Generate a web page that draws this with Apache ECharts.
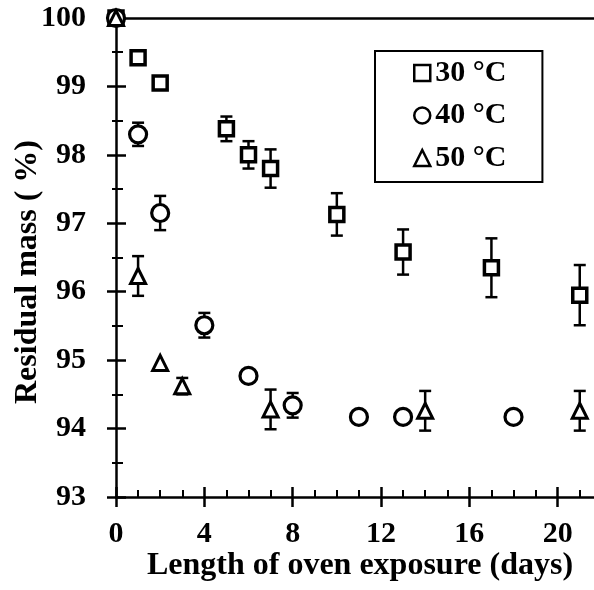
<!DOCTYPE html>
<html><head><meta charset="utf-8">
<script src="https://cdn.jsdelivr.net/npm/echarts@6/dist/echarts.min.js"></script>
<style>html,body{margin:0;padding:0;background:#fff}#c{width:594px;height:590px}</style>
</head><body><div id="c"></div>
<script>
const days30 = [0, 1, 2, 5, 6, 7, 10, 13, 17, 21];
const mass30 = [100, 99.42, 99.05, 98.38, 98.0, 97.8, 97.13, 96.58, 96.35, 95.95];
const err30  = [0, 0, 0, 0.18, 0.2, 0.28, 0.31, 0.33, 0.43, 0.44];
const days40 = [0, 1, 2, 4, 6, 8, 11, 13, 18];
const mass40 = [100, 98.3, 97.15, 95.51, 94.77, 94.34, 94.17, 94.17, 94.17];
const err40  = [0, 0.17, 0.25, 0.18, 0, 0.18, 0, 0, 0];
const days50 = [0, 1, 2, 3, 7, 14, 21];
const mass50 = [100, 96.23, 94.96, 94.62, 94.28, 94.26, 94.26];
const err50  = [0, 0.29, 0, 0.12, 0.29, 0.29, 0.29];
const seriesNames = ['30 °C', '40 °C', '50 °C'];
const xTicks = [0, 4, 8, 12, 16, 20];
const yTicks = [93, 94, 95, 96, 97, 98, 99, 100];

const FONT = '"Liberation Serif", "Times New Roman", serif';
const zip = (xs, ys) => xs.map((x, i) => [x, ys[i]]);
const errData = (xs, ys, es) => xs.map((x, i) => [x, ys[i], es[i]]).filter(d => d[2] > 0);

function errSeries(xs, ys, es) {
  return {
    type: 'custom', z: 1, silent: true, clip: false,
    data: errData(xs, ys, es),
    encode: {x: 0, y: 1},
    renderItem: function (params, api) {
      const x = api.value(0), y = api.value(1), e = api.value(2);
      const top = api.coord([x, y + e]);
      const bot = api.coord([x, y - e]);
      const hw = 6;
      const st = {stroke: '#000', lineWidth: 2.5};
      return {type: 'group', children: [
        {type: 'line', shape: {x1: top[0], y1: top[1], x2: bot[0], y2: bot[1]}, style: st},
        {type: 'line', shape: {x1: top[0] - hw, y1: top[1], x2: top[0] + hw, y2: top[1]}, style: st},
        {type: 'line', shape: {x1: bot[0] - hw, y1: bot[1], x2: bot[0] + hw, y2: bot[1]}, style: st}
      ]};
    }
  };
}

const labelStyle = {fontFamily: FONT, fontWeight: 'bold', fontSize: 30, color: '#000'};
const nameStyle = {fontFamily: FONT, fontWeight: 'bold', fontSize: 32, color: '#000'};
const lineStyle = {color: '#000', width: 2.5};

const chart = echarts.init(document.getElementById('c'), null, {renderer: 'canvas'});
chart.setOption({
  animation: false,
  backgroundColor: '#fff',
  grid: {left: 116, top: 18, right: -52, bottom: 93, containLabel: false, outerBoundsMode: 'none'},
  legend: {
    orient: 'vertical', left: 375, top: 51,
    padding: [7, 36, 9, 38], itemGap: 12.5,
    itemWidth: 16, itemHeight: 16,
    borderColor: '#000', borderWidth: 2,
    data: seriesNames,
    textStyle: {fontFamily: FONT, fontWeight: 'bold', fontSize: 30, color: '#000'},
    itemStyle: {color: '#fff', borderColor: '#000', borderWidth: 2.5}
  },
  xAxis: [
    {type: 'value', position: 'bottom', min: 0, max: 24, interval: 4,
     name: 'Length of oven exposure (days)', nameLocation: 'middle', nameGap: 53,
     nameMoveOverlap: false,
     nameTextStyle: Object.assign({padding: [0, 42, 0, 0]}, nameStyle),
     axisLine: {show: true, onZero: false, lineStyle: lineStyle},
     axisTick: {show: true, inside: false, length: 10, lineStyle: lineStyle},
     axisLabel: Object.assign({margin: 22, formatter: v => xTicks.indexOf(v) >= 0 ? String(v) : ''}, labelStyle),
     splitLine: {show: false}},
    {type: 'value', position: 'bottom', min: 0, max: 24, interval: 4,
     axisLine: {show: false},
     axisTick: {show: true, inside: true, length: 10, lineStyle: lineStyle},
     minorTick: {show: true, splitNumber: 4, length: 7, lineStyle: {color: '#000', width: 2}},
     axisLabel: {show: false}, splitLine: {show: false}},
    {type: 'value', position: 'top', min: 0, max: 24,
     axisLine: {show: true, onZero: false, lineStyle: lineStyle},
     axisTick: {show: false}, axisLabel: {show: false}, splitLine: {show: false}}
  ],
  yAxis: [
    {type: 'value', position: 'left', min: 93, max: 100, interval: 1,
     name: 'Residual mass ( %)', nameLocation: 'middle', nameGap: 72, nameRotate: 90,
     nameMoveOverlap: false,
     nameTextStyle: Object.assign({padding: [0, 29, 0, 0]}, nameStyle),
     axisLine: {show: true, onZero: false, lineStyle: lineStyle},
     axisTick: {show: true, inside: false, length: 9, lineStyle: lineStyle},
     minorTick: {show: true, splitNumber: 2, length: 4, lineStyle: {color: '#000', width: 2}},
     axisLabel: Object.assign({margin: 30, formatter: v => yTicks.indexOf(v) >= 0 ? String(v) : ''}, labelStyle),
     splitLine: {show: false}},
    {type: 'value', position: 'left', min: 93, max: 100, interval: 1,
     axisLine: {show: false},
     axisTick: {show: true, inside: true, length: 10, lineStyle: lineStyle},
     minorTick: {show: true, splitNumber: 2, length: 7, lineStyle: {color: '#000', width: 2}},
     axisLabel: {show: false}, splitLine: {show: false}}
  ],
  series: [
    errSeries(days30, mass30, err30),
    errSeries(days40, mass40, err40),
    errSeries(days50, mass50, err50),
    {name: seriesNames[0], type: 'scatter', z: 3, clip: false, symbol: 'rect', symbolSize: 14,
     itemStyle: {color: '#fff', borderColor: '#000', borderWidth: 3.5, opacity: 1},
     data: zip(days30, mass30)},
    {name: seriesNames[1], type: 'scatter', z: 3, clip: false, symbol: 'circle', symbolSize: 17,
     itemStyle: {color: '#fff', borderColor: '#000', borderWidth: 3.2, opacity: 1},
     data: zip(days40, mass40)},
    {name: seriesNames[2], type: 'scatter', z: 3, clip: false, symbol: 'triangle', symbolSize: 15,
     itemStyle: {color: '#fff', borderColor: '#000', borderWidth: 3, opacity: 1},
     data: zip(days50, mass50)}
  ]
});
</script></body></html>
